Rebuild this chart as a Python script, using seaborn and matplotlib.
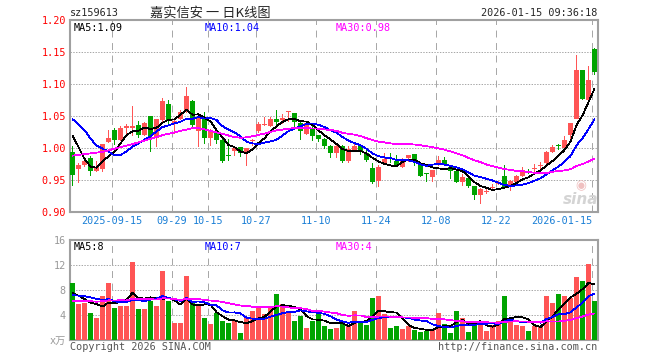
import numpy as np
import pandas as pd
import matplotlib
matplotlib.use('Agg')
import matplotlib.pyplot as plt
import seaborn as sns

# daily candles (88 trading days)
open_ = [0.993, 0.967, 0.974, 0.984, 0.964, 0.967, 1.009, 1.028, 1.013, 1.032,
         1.032, 1.036, 1.021, 1.050, 1.016, 1.043, 1.069, 1.038, 1.045, 1.057,
         1.074, 1.026, 1.045, 1.016, 1.026, 1.013, 0.988, 0.996, 1.0015, 0.994,
         1.0105, 1.026, 1.036, 1.035, 1.0455, 1.0445, 1.0555, 1.054, 1.039, 1.022,
         1.031, 1.021, 1.0136, 1.003, 0.9927, 1.003, 0.9796, 0.9953, 1.004, 0.9927,
         0.969, 0.9487, 0.976, 0.9835, 0.9796, 0.9707, 0.9843, 0.9906, 0.973, 0.9589,
         0.955, 0.973, 0.981, 0.9696, 0.9644, 0.9476, 0.953, 0.940, 0.926, 0.931,
         0.9375, 0.943, 0.9555, 0.9403, 0.9476, 0.956, 0.9634, 0.967, 0.9722, 0.976,
         0.9937, 1.004, 1.0005, 1.020, 1.0455, 1.1215, 1.0749, 1.1545]
close_ = [0.958, 0.974, 0.980, 0.964, 0.970, 1.006, 1.016, 1.013, 1.031, 1.035,
          1.035, 1.021, 1.039, 1.018, 1.045, 1.074, 1.044, 1.042, 1.056, 1.082,
          1.036, 1.047, 1.016, 1.027, 1.013, 0.980, 0.987, 1.000, 0.992, 0.9995,
          1.011, 1.037, 1.0366, 1.0455, 1.040, 1.0455, 1.056, 1.041, 1.026, 1.039,
          1.018, 1.014, 1.003, 0.9927, 1.003, 0.980, 0.998, 1.003, 0.994, 0.981,
          0.947, 0.970, 0.983, 0.983, 0.973, 0.983, 0.989, 0.9796, 0.956, 0.9586,
          0.9655, 0.981, 0.973, 0.9644, 0.9466, 0.9545, 0.940, 0.927, 0.9356, 0.9315,
          0.938, 0.947, 0.9377, 0.949, 0.9555, 0.9654, 0.9632, 0.9675, 0.9728, 0.9937,
          1.001, 1.0036, 1.013, 1.039, 1.122, 1.077, 1.107, 1.119]
high_ = [1.003, 0.977, 0.982, 0.987, 0.980, 1.007, 1.028, 1.031, 1.034, 1.038,
         1.065, 1.042, 1.041, 1.050, 1.046, 1.078, 1.075, 1.043, 1.060, 1.096,
         1.075, 1.048, 1.057, 1.029, 1.028, 1.016, 1.014, 1.003, 1.002, 1.000,
         1.014, 1.041, 1.049, 1.048, 1.060, 1.053, 1.057, 1.054, 1.041, 1.040,
         1.039, 1.021, 1.015, 1.004, 1.004, 1.005, 1.003, 1.009, 1.006, 0.9995,
         0.977, 0.973, 0.992, 0.992, 0.9885, 0.985, 0.989, 0.991, 0.977, 0.959,
         0.966, 0.987, 0.986, 0.973, 0.965, 0.959, 0.958, 0.940, 0.937, 0.939,
         0.944, 0.948, 0.974, 0.950, 0.958, 0.9707, 0.967, 0.975, 0.9785, 0.995,
         1.004, 1.007, 1.019, 1.039, 1.1455, 1.1215, 1.128, 1.1555]
low_ = [0.941, 0.945, 0.970, 0.957, 0.962, 0.962, 1.008, 1.005, 1.011, 1.021,
        1.019, 1.016, 1.018, 0.994, 1.002, 1.041, 1.035, 1.022, 1.044, 1.055,
        1.033, 1.002, 1.007, 1.003, 1.006, 0.977, 0.980, 0.987, 0.986, 0.972,
        1.003, 1.024, 1.035, 1.033, 1.031, 1.037, 1.040, 1.033, 1.012, 1.020,
        1.0115, 1.0094, 0.998, 0.984, 0.985, 0.976, 0.977, 0.993, 0.9885, 0.978,
        0.944, 0.939, 0.975, 0.976, 0.971, 0.969, 0.978, 0.9717, 0.954, 0.947,
        0.947, 0.9717, 0.972, 0.951, 0.9455, 0.9414, 0.937, 0.919, 0.913, 0.928,
        0.934, 0.942, 0.936, 0.9335, 0.946, 0.954, 0.960, 0.962, 0.965, 0.975,
        0.992, 0.997, 0.9963, 1.0126, 1.045, 1.0754, 1.073, 1.1136]
# volume in 10k shares
volume = [9.2, 5.75, 6.0, 4.25, 3.6, 7.1, 9.1, 5.2, 5.4, 5.5,
          12.5, 4.9, 4.9, 6.3, 5.4, 11.1, 6.2, 2.8, 2.8, 10.3,
          6.3, 5.5, 3.6, 2.5, 4.4, 3.0, 2.8, 3.0, 1.1, 3.6,
          4.6, 5.1, 4.1, 5.5, 7.4, 5.7, 4.7, 3.0, 3.8, 1.9,
          3.1, 4.4, 2.3, 1.8, 2.0, 2.8, 2.4, 4.7, 2.7, 2.4,
          6.8, 7.0, 4.1, 1.9, 2.2, 1.7, 2.2, 1.6, 1.25, 1.4,
          1.7, 4.3, 2.5, 1.1, 4.7, 3.5, 1.25, 2.5, 3.1, 1.4,
          2.4, 3.0, 7.0, 3.6, 2.4, 2.2, 1.4, 2.2, 2.2, 7.1,
          5.85, 7.3, 7.1, 6.65, 10.15, 9.5, 12.2, 6.2]

# sessions before the visible window, estimated from where the MA lines start
prev_close = [0.938, 0.944, 0.928, 0.934, 0.970, 0.944, 0.941, 0.959, 0.963, 0.963,
              0.937, 0.955, 0.934, 0.961, 0.990, 0.978, 0.976, 0.990, 1.016, 0.970,
              1.054, 1.070, 1.097, 1.077, 1.057, 1.061, 1.073, 1.024, 0.979]
prev_volume = [4.6, 5.8, 4.9, 6.3, 4.4, 5.1, 5.7, 4.8, 5.9, 4.5,
               5.5, 7.2, 5.9, 6.8, 5.3, 6.6, 5.8, 7.1, 5.6, 5.9,
               6.75, 7.0, 5.97, 5.93, 8.85, 7.75, 8.7, 7.07, 4.73]

date_labels = ['2025-09-15', '09-29', '10-15', '10-27', '11-10', '11-24', '12-08', '12-22', '2026-01-15']
date_idx = [7, 17, 23, 31, 41, 51, 61, 71, 87]
price_ticks = [0.90, 0.95, 1.00, 1.05, 1.10, 1.15, 1.20]
vol_ticks = [0, 4, 8, 12, 16]

UP = '#ff5555'
DOWN = '#00a400'
GRID = '#a8a8a8'
FRAME = '#a0a0a0'
MA_COLORS = {5: 'black', 10: 'blue', 30: '#ff00ff'}
PX = 0.72  # one pixel in points

n = len(close_)
df = pd.DataFrame({'idx': np.arange(n), 'open': open_, 'close': close_,
                   'high': high_, 'low': low_, 'vol': volume})
df['dir'] = np.where(df['close'] >= df['open'], 'up', 'down')
all_close = pd.Series(prev_close + close_)
all_vol = pd.Series(prev_volume + volume)
k = len(prev_close)
for w in (5, 10, 30):
    df[f'ma{w}'] = all_close.rolling(w).mean().iloc[k:].values
    df[f'vma{w}'] = all_vol.rolling(w).mean().iloc[k:].values

sns.set_style('white')
plt.rcParams['font.family'] = ['DejaVu Sans Mono', 'Noto Sans CJK SC']
plt.rcParams['lines.scale_dashes'] = False

W, H = 660, 360
fig = plt.figure(figsize=(W / 100, H / 100), dpi=100)
ax = fig.add_axes([70 / W, 1 - 212 / H, 527.5 / W, 192 / H])
axv = fig.add_axes([70 / W, 1 - 340 / H, 527.5 / W, 100 / H])

cols = [UP if d == 'up' else DOWN for d in df['dir']]

# candles: 1px wick + 5px body (one bar slot = 6px)
ax.bar(df['idx'], df['high'] - df['low'], bottom=df['low'], width=1 / 6, color=cols,
       linewidth=0, antialiased=False, zorder=3)
body_lo = df[['open', 'close']].min(axis=1)
body_h = (df['close'] - df['open']).abs().clip(lower=0.0016)
ax.bar(df['idx'], body_h, bottom=body_lo, width=5 / 6, color=cols, linewidth=0,
       antialiased=False, zorder=4)

for w in (5, 10, 30):
    sns.lineplot(data=df, x='idx', y=f'ma{w}', color=MA_COLORS[w], lw=0.55,
                 antialiased=False, ax=ax, zorder=5)
    sns.lineplot(data=df, x='idx', y=f'vma{w}', color=MA_COLORS[w], lw=0.55,
                 antialiased=False, ax=axv, zorder=5)

sns.barplot(data=df, x='idx', y='vol', hue='dir', palette={'up': UP, 'down': DOWN},
            native_scale=True, dodge=False, width=5 / 6, saturation=1, errorbar=None,
            legend=False, linewidth=0, antialiased=False, ax=axv, zorder=4)

grid_x = [i - 0.4 for i in date_idx]
for a, lim, ticks in ((ax, (0.90, 1.20), price_ticks), (axv, (0, 16), vol_ticks)):
    a.set_xlim(-0.4167, 87.5)
    a.set_ylim(*lim)
    a.set_xlabel('')
    a.set_ylabel('')
    a.set_xticks(grid_x)
    a.set_yticks(ticks)
    a.grid(axis='y', color=GRID, lw=PX, ls=(0, (1, 1)))
    a.grid(axis='x', color=GRID, lw=PX, ls=(0, (5, 4)))
    a.set_axisbelow(True)
    a.tick_params(length=0, pad=3)
    for s in a.spines.values():
        s.set_color(FRAME)
        s.set_linewidth(1.5)

ax.set_xticklabels(date_labels, color='#1a7fd6', fontsize=7.3)
ax.get_xticklabels()[-1].set_ha('right')
ax.set_yticklabels([f'{t:.2f}' for t in price_ticks], color='red', fontsize=7.3)
axv.set_xticklabels([])
axv.set_yticklabels(['x万', '4', '8', '12', '16'], color='#999999', fontsize=7.3)


def ftext(x, y, s, **kw):
    fig.text(x / W, 1 - y / H, s, va='center', **kw)


last = df.iloc[-1]
ftext(70, 13, 'sz159613', fontsize=7.3)
ftext(150, 13, '嘉实信安 一 日K线图', fontsize=9.5, family=['Noto Sans CJK SC', 'DejaVu Sans'])
ftext(597, 13, '2026-01-15 09:36:18', fontsize=7.3, ha='right')
ftext(74, 28, f"MA5:{last['ma5']:.2f}", fontsize=7.3, color='black')
ftext(205, 28, f"MA10:{last['ma10']:.2f}", fontsize=7.3, color='blue')
ftext(336, 28, f"MA30:{last['ma30']:.2f}", fontsize=7.3, color='#ff00ff')
ftext(74, 247, f"MA5:{int(last['vma5'])}", fontsize=7.3, color='black')
ftext(205, 247, f"MA10:{int(last['vma10'])}", fontsize=7.3, color='blue')
ftext(336, 247, f"MA30:{int(last['vma30'])}", fontsize=7.3, color='#ff00ff')
ftext(70, 347, 'Copyright 2026 SINA.COM', fontsize=7.3, color='#555555')
ftext(597, 347, 'http://finance.sina.com.cn', fontsize=7.3, color='#555555', ha='right')
ftext(581, 186, '◉', fontsize=9, color='#f0c0c0', ha='center', family='DejaVu Sans')
ftext(581, 200, 'sina', fontsize=11, color='#d4d4d4', ha='center',
      family='DejaVu Sans', style='italic', weight='bold')

fig.savefig('out.png', dpi=100)
